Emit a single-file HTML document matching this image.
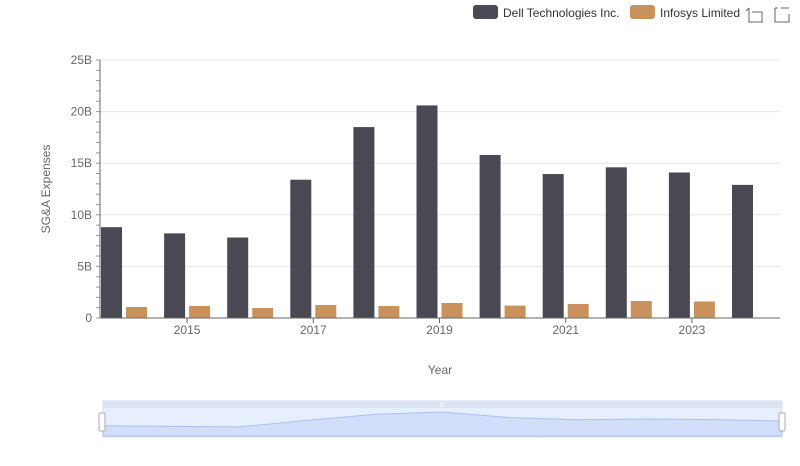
<!DOCTYPE html>
<html><head><meta charset="utf-8">
<style>
body{margin:0;background:#fff;font-family:"Liberation Sans",sans-serif;}
svg text{font-family:"Liberation Sans",sans-serif;}
</style></head>
<body>
<svg width="800" height="461" id="chart" xmlns="http://www.w3.org/2000/svg">
<g>
<rect x="473" y="5" width="25" height="14" rx="3" fill="#4a4953"/>
<text x="503" y="17" font-size="12" fill="#333">Dell Technologies Inc.</text>
<rect x="630" y="5" width="25" height="14" rx="3" fill="#c9915c"/>
<text x="660" y="17" font-size="12" fill="#333">Infosys Limited</text>
</g>
<g stroke="#666" fill="none" stroke-width="1">
<path d="M749 8v14h14M752 12h10v10M749 8l-3 3"/>
<path d="M775 8v14h14V14M778 8h-3M781 8l8 0"/>
</g>
<g id="grid"></g>
<g id="bars"></g>
<g id="axes"></g>
<text x="50" y="189" font-size="12" fill="#666" text-anchor="middle" transform="rotate(-90 50 189)">SG&amp;A Expenses</text>
<text x="440" y="374" font-size="12" fill="#666" text-anchor="middle">Year</text>
<g>
<rect x="103" y="401" width="679" height="36" fill="#e8effc" stroke="#d5dcec"/>
<rect x="103" y="401" width="679" height="7" fill="#dbe3f3"/>
<text x="442" y="407" font-size="6" fill="#fff" text-anchor="middle">III</text>
<path id="dzArea" fill="#d2defa" stroke="#a9c2f0" stroke-width="1"/>
<rect x="99" y="413" width="6" height="18" rx="1" fill="#fff" stroke="#aab"/>
<rect x="779" y="413" width="6" height="18" rx="1" fill="#fff" stroke="#aab"/>
</g>
</svg>
<script>
const years=[2014,2015,2016,2017,2018,2019,2020,2021,2022,2023,2024];
const dellValues=[8.8,8.2,7.8,13.4,18.5,20.6,15.8,13.95,14.6,14.1,12.9];
const infosysValues=[1.07,1.16,0.97,1.26,1.16,1.45,1.2,1.36,1.65,1.6,null];
const yTicks=[0,5,10,15,20,25];
const yTickLabels=["0","5B","10B","15B","20B","25B"];
const ns="http://www.w3.org/2000/svg";
const y0=318,yTop=60,yMax=25,xL=100,xR=780,step=63.1,bw=21;
const yS=v=>y0-(v/yMax)*(y0-yTop);
const xDell=i=>101+i*step;
const xInf=i=>126+i*step;
function mk(t,a,p){const e=document.createElementNS(ns,t);for(const k in a)e.setAttribute(k,a[k]);p.appendChild(e);return e;}
const grid=document.getElementById('grid'),bars=document.getElementById('bars'),axes=document.getElementById('axes');
yTicks.forEach((v,i)=>{
 const y=yS(v);
 if(v>0){const l=mk('line',{x1:xL,x2:xR,y1:y,y2:y,stroke:'#e6e6e6'},grid);
 
 }
 const t=mk('text',{x:92,y:y+4,'font-size':12,fill:'#666','text-anchor':'end'},axes);
 t.textContent=yTickLabels[i];
 
 
 // minor ticks
});
for(let v=0;v<=25;v+=1){const y=yS(v);const m=mk('line',{x1:96,x2:100,y1:y,y2:y,stroke:'#999'},axes);
 
 }
const ya=mk('line',{x1:xL,x2:xL,y1:yTop,y2:y0,stroke:'#666'},axes);


const xa=mk('line',{x1:xL,x2:xR,y1:y0,y2:y0,stroke:'#666'},axes);


years.forEach((yr,i)=>{
 const d=dellValues[i];
 if(d!=null){const r=mk('rect',{x:xDell(i),y:yS(d),width:bw,height:y0-yS(d),fill:'#4a4953'},bars);
 
 }
 const f=infosysValues[i];
 if(f!=null){const r=mk('rect',{x:xInf(i),y:yS(f),width:bw,height:y0-yS(f),fill:'#c9915c'},bars);
 
 }
 if(yr%2===1){const x=xDell(i)+23;
 const tk=mk('line',{x1:x,x2:x,y1:y0,y2:y0+5,stroke:'#666'},axes);
 
 
 const t=mk('text',{x:x,y:y0+16,'font-size':12,fill:'#666','text-anchor':'middle'},axes);
 t.textContent=yr;
 
 }
});
// data zoom preview from dell values
const dzTop=412,dzBot=436,dzMax=Math.max(...dellValues);
let p='M103 '+dzBot;
dellValues.forEach((v,i)=>{const x=103+i*(679/(dellValues.length-1));const y=dzBot-(v/dzMax)*(dzBot-dzTop);p+=' L'+x.toFixed(1)+' '+y.toFixed(1);});
p+=' L782 '+dzBot+' Z';
document.getElementById('dzArea').setAttribute('d',p);
</script>
</body></html>
